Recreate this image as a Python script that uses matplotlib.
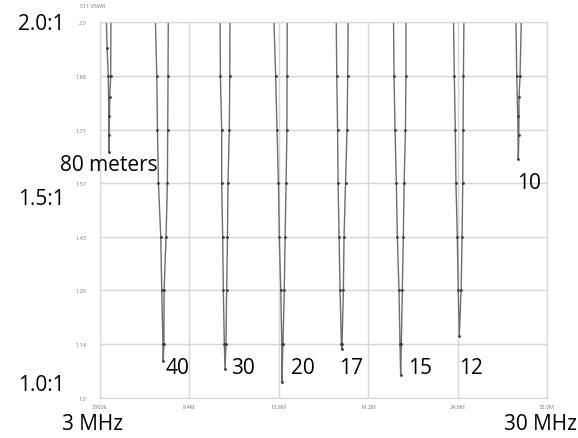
import matplotlib.pyplot as plt

plt.rcParams['font.family'] = ['Open Sans', 'DejaVu Sans']

# ---- data: S11 VSWR sweep, 3 - 30 MHz, one dip per band ----
f80 = [3.36, 3.43, 3.50, 3.53, 3.544, 3.556, 3.59, 3.646, 3.664]
v80 = [2.05, 1.93, 1.857, 1.75, 1.654, 1.70, 1.80, 1.857, 2.05]

f40 = [6.32, 6.43, 6.47, 6.53, 6.67, 6.73, 6.80, 6.82, 6.86, 6.87, 6.99, 7.07, 7.09, 7.11, 7.13]
v40 = [2.05, 1.857, 1.714, 1.571, 1.429, 1.286, 1.143, 1.098, 1.143, 1.286, 1.429, 1.571, 1.714, 1.857, 2.05]

f30 = [10.25, 10.27, 10.35, 10.35, 10.41, 10.45, 10.51, 10.55, 10.61, 10.65, 10.70, 10.73, 10.81, 10.84, 10.85]
v30 = [2.05, 1.857, 1.714, 1.571, 1.429, 1.286, 1.143, 1.077, 1.143, 1.286, 1.429, 1.571, 1.714, 1.857, 2.05]

f20 = [13.47, 13.61, 13.69, 13.78, 13.83, 13.92, 13.98, 13.99, 14.05, 14.13, 14.18, 14.24, 14.29, 14.30, 14.31]
v20 = [2.05, 1.857, 1.714, 1.571, 1.429, 1.286, 1.143, 1.043, 1.143, 1.286, 1.429, 1.571, 1.714, 1.857, 2.05]

f17 = [17.26, 17.30, 17.35, 17.38, 17.44, 17.50, 17.58, 17.60, 17.62, 17.70, 17.74, 17.83, 17.92, 17.96, 18.00]
v17 = [2.05, 1.857, 1.714, 1.571, 1.429, 1.286, 1.143, 1.130, 1.143, 1.286, 1.429, 1.571, 1.714, 1.857, 2.05]

f15 = [20.72, 20.76, 20.82, 20.90, 20.96, 21.06, 21.12, 21.16, 21.20, 21.26, 21.32, 21.37, 21.45, 21.48, 21.48]
v15 = [2.05, 1.857, 1.714, 1.571, 1.429, 1.286, 1.143, 1.061, 1.143, 1.286, 1.429, 1.571, 1.714, 1.857, 2.05]

f12 = [24.34, 24.40, 24.46, 24.50, 24.58, 24.64, 24.70, 24.81, 24.87, 24.91, 24.93, 24.95, 24.99]
v12 = [2.05, 1.857, 1.714, 1.571, 1.429, 1.286, 1.164, 1.286, 1.429, 1.571, 1.714, 1.857, 2.05]

f10 = [28.11, 28.17, 28.23, 28.266, 28.30, 28.31, 28.37, 28.47]
v10 = [2.05, 1.857, 1.75, 1.636, 1.70, 1.80, 1.857, 2.05]

bands = [(f80, v80), (f40, v40), (f30, v30), (f20, v20),
         (f17, v17), (f15, v15), (f12, v12), (f10, v10)]

x_ticks = [3.0, 8.4, 13.8, 19.2, 24.6, 30.0]
x_labels = ['3000k', '8.4M', '13.8M', '19.2M', '24.6M', '30.0M']
y_ticks = [1.0, 1.143, 1.286, 1.429, 1.571, 1.714, 1.857, 2.0]
y_labels = ['1.0', '1.14', '1.29', '1.43', '1.57', '1.71', '1.86', '2.0']

# band labels: text, freq, vswr
band_names = ['80 meters', '40', '30', '20', '17', '15', '12', '10']
name_f = [0.58, 6.93, 10.91, 14.54, 17.44, 21.60, 24.69, 28.19]
name_v = [1.622, 1.082, 1.082, 1.082, 1.082, 1.082, 1.082, 1.572]

# ---- plot ----
fig = plt.figure(figsize=(5.78, 4.39), dpi=100)
ax = fig.add_axes([0.173, 0.0911, 0.7734, 0.8565])

for f, v in bands:
    ax.plot(f, v, color='#6e6e6e', lw=1.0, marker='o', ms=1.0,
            mfc='#3a3a3a', mec='#3a3a3a')

ax.set_xlim(3, 30)
ax.set_ylim(1.0, 2.0)
ax.set_xticks(x_ticks)
ax.set_xticklabels(x_labels)
ax.set_yticks(y_ticks)
ax.set_yticklabels(y_labels)
ax.tick_params(labelsize=4, labelcolor='#777777', length=0, pad=4)
ax.tick_params(axis='y', pad=10)
ax.grid(True, color='#d6d6d6', lw=1)
for s in ax.spines.values():
    s.set_color('#d6d6d6')

for name, fx, vy in zip(band_names, name_f, name_v):
    ax.text(fx, vy, name, fontsize=15, ha='left', va='center', clip_on=False)

fig.text(80 / 578, 1 - 6 / 439, 'S11 VSWR', fontsize=4, color='#777777',
         ha='left', va='center')

big = dict(fontsize=15, va='center')
fig.text(18 / 578, 1 - 24 / 439, '2.0:1', ha='left', **big)
fig.text(18 / 578, 1 - 200 / 439, '1.5:1', ha='left', **big)
fig.text(18 / 578, 1 - 386 / 439, '1.0:1', ha='left', **big)
fig.text(62 / 578, 1 - 425 / 439, '3 MHz', ha='left', **big)
fig.text(577 / 578, 1 - 425 / 439, '30 MHz', ha='right', **big)

fig.savefig('out.png', dpi=100)
